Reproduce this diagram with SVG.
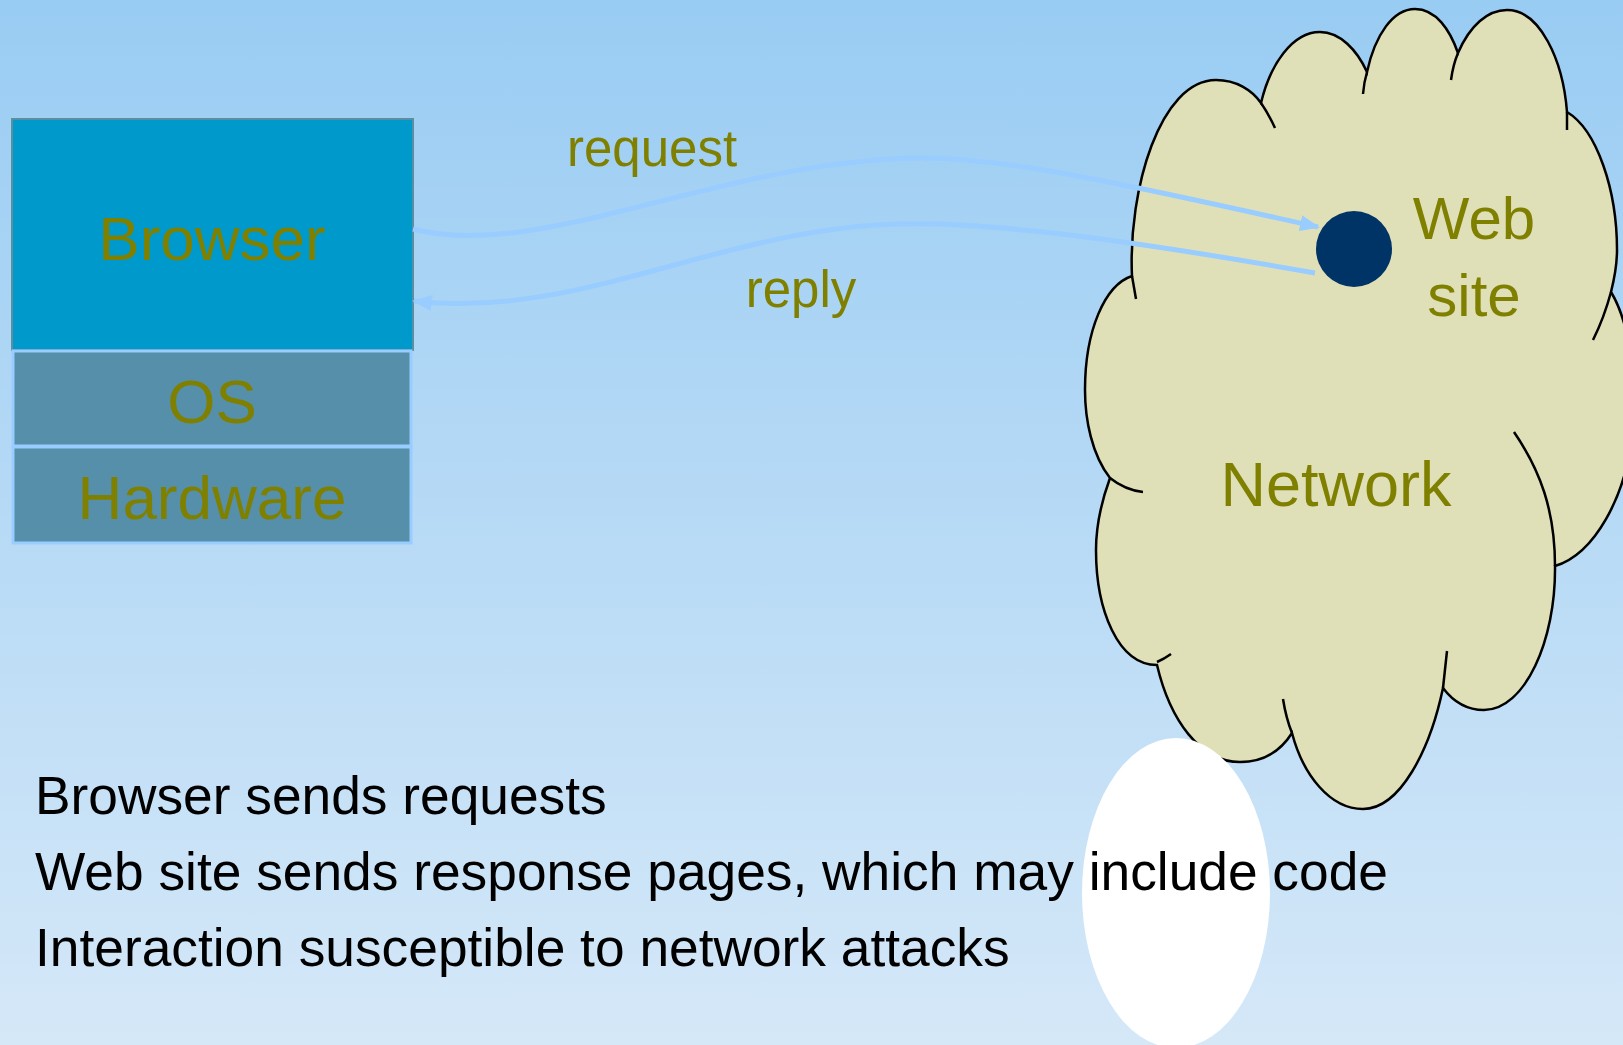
<svg xmlns="http://www.w3.org/2000/svg" width="1623" height="1045" viewBox="0 0 1623 1045">
<defs>
<linearGradient id="bg" x1="0" y1="0" x2="0" y2="1">
<stop offset="0" stop-color="#99CCF3"/>
<stop offset="1" stop-color="#D5E8F8"/>
</linearGradient>
<marker id="ah" viewBox="0 0 20 16" refX="18" refY="8" markerWidth="20" markerHeight="16" orient="auto" markerUnits="userSpaceOnUse">
<path d="M0,0 L20,8 L0,16 Z" fill="#99CCFF"/>
</marker>
<style>
.lbl{font-family:"Liberation Sans",Arial,sans-serif;fill:#808000;text-anchor:middle}
.body{font-family:"Liberation Sans",Arial,sans-serif;fill:#000000;font-size:53.3px}
.conn{fill:none;stroke:#99CCFF;stroke-width:5}
.cl{fill:none;stroke:#000000;stroke-width:2.5;stroke-linecap:butt}
.layer{fill:#558FA9;stroke:#99CCFF;stroke-width:3}
</style>
</defs>
<rect x="0" y="0" width="1623" height="1045" fill="url(#bg)"/>

<g id="network">
<path d="M1132,276 C1128,190 1160,80 1216,80 C1236,80 1252,90 1261,103 C1270,65 1292,32 1320,32 C1340,32 1357,50 1367,72 C1375,35 1393,9 1415,9 C1436,9 1450,30 1458,53 C1470,25 1488,10 1507,10 C1540,10 1563,60 1567,112 C1597,130 1617,190 1617,250 C1617,265 1614,280 1611,292 C1628,320 1636,370 1634,420 C1628,500 1592,555 1555,566 C1556,640 1525,710 1484,710 C1465,710 1452,700 1443,688 C1430,750 1400,809 1363,809 C1330,809 1303,775 1292,733 C1280,752 1262,762 1240,762 C1200,762 1170,720 1157,665 C1118,665 1096,610 1096,550 C1096,525 1102,500 1110,478 C1092,455 1085,420 1085,390 C1085,330 1105,285 1132,276 Z" fill="#E0E0B8" stroke="#000000" stroke-width="2.5"/>
<path class="cl" d="M1132,276 L1136,299"/>
<path class="cl" d="M1261,103 Q1268,113 1275,128"/>
<path class="cl" d="M1363,94 Q1364,82 1367,72"/>
<path class="cl" d="M1451,80 Q1453,65 1458,53"/>
<path class="cl" d="M1567,112 L1567,130"/>
<path class="cl" d="M1611,292 Q1604,318 1593,340"/>
<path class="cl" d="M1514,432 C1540,470 1555,510 1555,566"/>
<path class="cl" d="M1447,651 L1443,688"/>
<path class="cl" d="M1283,699 Q1286,718 1292,733"/>
<path class="cl" d="M1157,662 Q1164,659 1171,654"/>
<path class="cl" d="M1110,478 Q1125,490 1143,492"/>
<text class="lbl" x="1336" y="506" font-size="63">Network</text>
</g>

<g id="website">
<circle cx="1354" cy="249" r="38" fill="#003366"/>
<text class="lbl" x="1474" y="239" font-size="60">Web</text>
<text class="lbl" x="1474" y="316" font-size="60">site</text>
</g>

<g id="browser">
<rect x="12" y="119" width="401" height="231" fill="#0099CC" stroke="#5A8FA2" stroke-width="2"/>
<text class="lbl" x="212" y="260" font-size="62">Browser</text>
</g>
<g id="os">
<rect x="13" y="351" width="398" height="95" class="layer"/>
<text class="lbl" x="212" y="423" font-size="62">OS</text>
</g>
<g id="hardware">
<rect x="13" y="447" width="398" height="96" class="layer"/>
<text class="lbl" x="212" y="519" font-size="62">Hardware</text>
</g>

<g id="connectors">
<path class="conn" d="M413,229 C540,262 720,160 920,158 C1010,157 1150,190 1318,227" marker-end="url(#ah)"/>
<path class="conn" d="M1315,273 C1100,235 980,222 900,224 C720,228 580,320 414,301" marker-end="url(#ah)"/>
<text class="lbl" x="652" y="166" font-size="51">request</text>
<text class="lbl" x="801" y="307" font-size="51">reply</text>
</g>

<ellipse cx="1176" cy="893" rx="94" ry="155" fill="#FFFFFF"/>

<g id="bullets">
<text class="body" x="35" y="814">Browser sends requests</text>
<text class="body" x="35" y="890">Web site sends response pages, which may include code</text>
<text class="body" x="35" y="966">Interaction susceptible to network attacks</text>
</g>
</svg>
